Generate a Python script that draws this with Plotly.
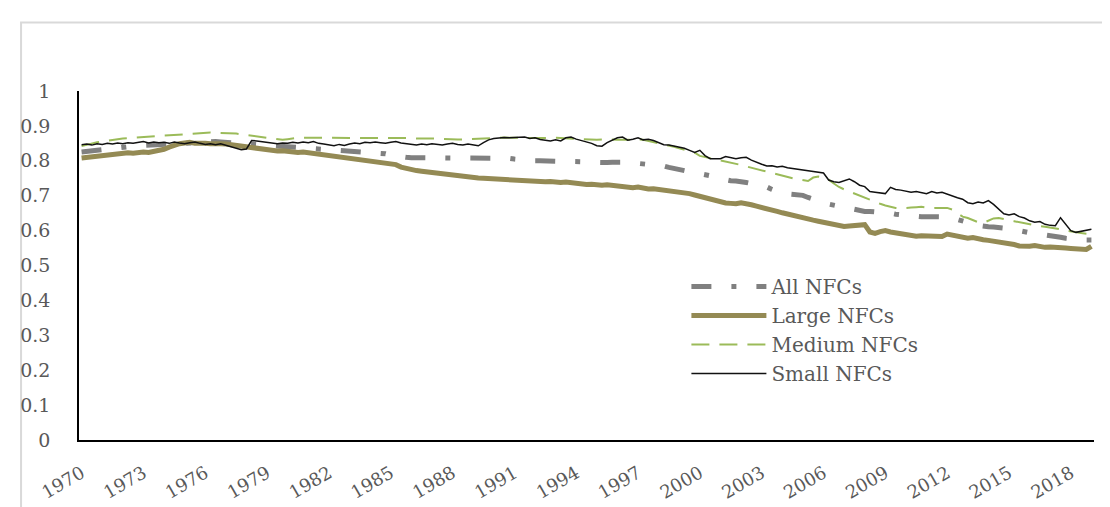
import plotly.graph_objects as go

start_year = 1970
tick_years = list(range(1970, 2019, 3))

# quarterly values, 1970Q1 .. 2019Q1 (one row per year)
all_nfcs = [
    0.825, 0.827, 0.829, 0.831,  0.833, 0.835, 0.837, 0.839,  0.840, 0.841, 0.842, 0.843,
    0.844, 0.845, 0.846, 0.847,  0.848, 0.849, 0.850, 0.851,  0.852, 0.853, 0.853, 0.854,
    0.854, 0.855, 0.855, 0.854,  0.853, 0.852, 0.850, 0.849,  0.848, 0.847, 0.846, 0.845,
    0.844, 0.843, 0.842, 0.841,  0.840, 0.839, 0.838, 0.837,  0.836, 0.835, 0.834, 0.833,
    0.832, 0.831, 0.830, 0.829,  0.828, 0.828, 0.827, 0.826,  0.826, 0.825, 0.823, 0.820,
    0.816, 0.813, 0.811, 0.810,  0.809, 0.809, 0.808, 0.808,  0.808, 0.807, 0.807, 0.806,
    0.806, 0.806, 0.806, 0.806,  0.806, 0.806, 0.807, 0.807,  0.808, 0.808, 0.808, 0.807,
    0.805, 0.803, 0.802, 0.801,  0.800, 0.800, 0.800, 0.800,  0.800, 0.800, 0.799, 0.799,
    0.799, 0.798, 0.797, 0.796,  0.795, 0.794, 0.795, 0.796,  0.797, 0.797, 0.796, 0.794,
    0.793, 0.792, 0.791, 0.789,  0.788, 0.785, 0.781, 0.778,  0.775, 0.773, 0.770, 0.768,
    0.766, 0.762, 0.757, 0.752,  0.748, 0.745, 0.743, 0.742,  0.741, 0.738, 0.735, 0.732,
    0.730, 0.725, 0.718, 0.712,  0.707, 0.705, 0.704, 0.703,  0.701, 0.695, 0.689, 0.684,
    0.680, 0.676, 0.672, 0.669,  0.667, 0.664, 0.660, 0.656,  0.655, 0.655, 0.654, 0.654,
    0.653, 0.650, 0.647, 0.645,  0.645, 0.643, 0.641, 0.640,  0.640, 0.640, 0.639, 0.639,
    0.639, 0.636, 0.631, 0.627,  0.624, 0.619, 0.615, 0.612,  0.611, 0.610, 0.609, 0.608,
    0.607, 0.604, 0.600, 0.596,  0.594, 0.592, 0.590, 0.589,  0.588, 0.585, 0.581, 0.578,
    0.576, 0.575, 0.574, 0.573,  0.573,
]

large_nfcs = [
    0.808, 0.810, 0.812, 0.814,  0.816, 0.818, 0.820, 0.821,  0.822, 0.823, 0.822, 0.824,
    0.825, 0.824, 0.827, 0.829,  0.833, 0.839, 0.845, 0.849,  0.851, 0.853, 0.850, 0.851,
    0.850, 0.849, 0.850, 0.849,  0.848, 0.846, 0.845, 0.842,  0.840, 0.837, 0.835, 0.833,
    0.831, 0.830, 0.828, 0.829,  0.827, 0.826, 0.824, 0.825,  0.823, 0.820, 0.818, 0.817,
    0.815, 0.813, 0.812, 0.810,  0.808, 0.806, 0.804, 0.802,  0.799, 0.797, 0.795, 0.793,
    0.791, 0.789, 0.782, 0.778,  0.775, 0.772, 0.770, 0.768,  0.766, 0.764, 0.762, 0.760,
    0.758, 0.757, 0.755, 0.754,  0.752, 0.751, 0.750, 0.749,  0.748, 0.747, 0.747, 0.746,
    0.745, 0.745, 0.744, 0.742,  0.743, 0.741, 0.740, 0.741,  0.739, 0.738, 0.739, 0.737,
    0.735, 0.734, 0.732, 0.733,  0.731, 0.730, 0.731, 0.729,  0.730, 0.728, 0.725, 0.723,
    0.725, 0.722, 0.719, 0.720,  0.718, 0.716, 0.717, 0.714,  0.712, 0.710, 0.706, 0.702,
    0.698, 0.694, 0.690, 0.686,  0.682, 0.679, 0.678, 0.677,  0.680, 0.678, 0.674, 0.670,
    0.667, 0.663, 0.659, 0.655,  0.651, 0.647, 0.644, 0.641,  0.637, 0.634, 0.630, 0.627,
    0.624, 0.621, 0.618, 0.615,  0.612, 0.613, 0.614, 0.616,  0.617, 0.596, 0.592, 0.597,
    0.600, 0.596, 0.593, 0.590,  0.588, 0.586, 0.584, 0.585,  0.584, 0.582, 0.581, 0.583,
    0.590, 0.587, 0.583, 0.580,  0.578, 0.580, 0.576, 0.574,  0.572, 0.570, 0.568, 0.566,
    0.562, 0.560, 0.556, 0.554,  0.555, 0.557, 0.554, 0.552,  0.553, 0.551, 0.552, 0.550,
    0.549, 0.547, 0.545, 0.546,  0.555,
]

medium_nfcs = [
    0.842, 0.846, 0.850, 0.853,  0.855, 0.858, 0.860, 0.862,  0.864, 0.865, 0.866, 0.867,
    0.868, 0.869, 0.870, 0.871,  0.873, 0.874, 0.875, 0.876,  0.877, 0.878, 0.879, 0.880,
    0.880, 0.881, 0.880, 0.880,  0.879, 0.878, 0.878, 0.876,  0.874, 0.872, 0.870, 0.869,
    0.868, 0.866, 0.862, 0.860,  0.862, 0.865, 0.866, 0.866,  0.866, 0.865, 0.866, 0.867,
    0.866, 0.865, 0.866, 0.866,  0.867, 0.866, 0.865, 0.866,  0.866, 0.867, 0.866, 0.865,
    0.866, 0.866, 0.867, 0.866,  0.865, 0.864, 0.865, 0.864,  0.864, 0.863, 0.863, 0.862,
    0.862, 0.861, 0.861, 0.862,  0.862, 0.863, 0.864, 0.865,  0.866, 0.867, 0.867, 0.866,
    0.867, 0.866, 0.865, 0.866,  0.865, 0.865, 0.864, 0.865,  0.866, 0.865, 0.864, 0.863,
    0.862, 0.863, 0.862, 0.861,  0.860, 0.861, 0.862, 0.861,  0.860, 0.859, 0.860, 0.861,
    0.862, 0.860, 0.857, 0.853,  0.849, 0.846, 0.843, 0.840,  0.836, 0.832, 0.828, 0.823,
    0.814, 0.811, 0.808, 0.805,  0.802, 0.799, 0.796, 0.792,  0.788, 0.784, 0.780, 0.776,
    0.772, 0.768, 0.764, 0.761,  0.758, 0.754, 0.750, 0.747,  0.744, 0.742, 0.752, 0.755,
    0.752, 0.746, 0.735, 0.725,  0.718, 0.712, 0.705, 0.700,  0.694, 0.688, 0.682, 0.677,
    0.672, 0.668, 0.665, 0.664,  0.664, 0.666, 0.667, 0.668,  0.666, 0.664, 0.665, 0.666,
    0.665, 0.660, 0.650, 0.640,  0.636, 0.630, 0.624, 0.622,  0.628, 0.635, 0.636, 0.632,
    0.630, 0.627, 0.624, 0.620,  0.618, 0.616, 0.613, 0.611,  0.609, 0.607, 0.604, 0.600,
    0.597, 0.595, 0.593, 0.591,  0.590,
]

small_nfcs = [
    0.846, 0.848, 0.845, 0.849,  0.847, 0.850, 0.848, 0.851,  0.849, 0.852, 0.850, 0.853,
    0.855, 0.851, 0.854, 0.852,  0.853, 0.850, 0.854, 0.851,  0.849, 0.852, 0.854, 0.850,
    0.847, 0.849, 0.846, 0.849,  0.845, 0.840, 0.835, 0.832,  0.834, 0.858, 0.857, 0.855,
    0.853, 0.851, 0.849, 0.851,  0.850, 0.853, 0.851, 0.854,  0.852, 0.855, 0.850, 0.848,
    0.846, 0.843, 0.847, 0.844,  0.848, 0.851, 0.849, 0.853,  0.852, 0.854, 0.852, 0.850,
    0.853, 0.855, 0.851, 0.849,  0.847, 0.845, 0.848, 0.846,  0.849, 0.847, 0.845, 0.848,
    0.850, 0.847, 0.845, 0.848,  0.845, 0.843, 0.852, 0.860,  0.864, 0.866, 0.867, 0.866,
    0.867, 0.869, 0.868, 0.864,  0.866, 0.861, 0.860, 0.857,  0.860, 0.857, 0.866, 0.868,
    0.862, 0.858, 0.852, 0.850,  0.843, 0.842, 0.852, 0.858,  0.866, 0.868, 0.859, 0.862,
    0.866, 0.860, 0.862, 0.858,  0.852, 0.846, 0.845, 0.842,  0.838, 0.836, 0.830, 0.824,
    0.830, 0.815, 0.806, 0.805,  0.806, 0.812, 0.808, 0.806,  0.809, 0.810, 0.802, 0.795,
    0.790, 0.785, 0.786, 0.782,  0.784, 0.780, 0.778, 0.774,  0.772, 0.770, 0.768, 0.766,
    0.765, 0.745, 0.740, 0.738,  0.742, 0.748, 0.740, 0.730,  0.726, 0.712, 0.710, 0.708,
    0.706, 0.724, 0.718, 0.716,  0.712, 0.710, 0.712, 0.708,  0.706, 0.712, 0.708, 0.710,
    0.704, 0.700, 0.694, 0.690,  0.680, 0.677, 0.682, 0.679,  0.686, 0.675, 0.662, 0.648,
    0.645, 0.648, 0.640, 0.636,  0.628, 0.624, 0.626, 0.618,  0.615, 0.614, 0.637, 0.620,
    0.600, 0.595, 0.598, 0.603,  0.604,
]

series_names = ["All NFCs", "Large NFCs", "Medium NFCs", "Small NFCs"]

n = len(all_nfcs)
x = list(range(n))
tick_vals = [(y - start_year) * 4 for y in tick_years]
tick_text = [str(y) for y in tick_years]

FONT = "DejaVu Serif"
TXT = "#595959"

fig = go.Figure()
fig.add_trace(go.Scatter(x=x, y=all_nfcs, name=series_names[0], mode="lines",
                         line=dict(color="#808080", width=5, dash="20px,20px,5px,20px")))
fig.add_trace(go.Scatter(x=x, y=large_nfcs, name=series_names[1], mode="lines",
                         line=dict(color="#948A54", width=5)))
fig.add_trace(go.Scatter(x=x, y=medium_nfcs, name=series_names[2], mode="lines",
                         line=dict(color="#9BBB59", width=2, dash="18px,10px")))
fig.add_trace(go.Scatter(x=x, y=small_nfcs, name=series_names[3], mode="lines",
                         line=dict(color="#111111", width=1.5)))

L, R, T, B = 70, 24, 83, 57
W, H = 1110, 507
pw, ph = W - L - R, H - T - B

fig.update_layout(
    width=W, height=H,
    margin=dict(l=L, r=R, t=T, b=B),
    paper_bgcolor="white", plot_bgcolor="white",
    font=dict(family=FONT, size=18, color=TXT),
    showlegend=True,
    legend=dict(x=(678 - L) / pw, y=(H - B - 268) / ph, xanchor="left", yanchor="top",
                bgcolor="rgba(0,0,0,0)", itemwidth=75, tracegroupgap=0,
                font=dict(family=FONT, size=20, color=TXT)),
    xaxis=dict(range=[-0.5, n - 0.5], tickmode="array", tickvals=tick_vals, ticktext=tick_text,
               tickangle=-30, showgrid=False, zeroline=False, showline=True,
               linecolor="black", linewidth=2, ticks="", ticklabelstandoff=14,
               tickfont=dict(family=FONT, size=18, color=TXT)),
    yaxis=dict(range=[0, 1], tickmode="array", tickvals=[i / 10 for i in range(11)],
               ticktext=["0", "0.1", "0.2", "0.3", "0.4", "0.5", "0.6", "0.7", "0.8", "0.9", "1"],
               showgrid=False, zeroline=False, showline=True, linecolor="black", linewidth=1.5,
               ticks="", ticklabelstandoff=23,
               tickfont=dict(family=FONT, size=19, color=TXT)),
    shapes=[dict(type="rect", xref="paper", yref="paper",
                 x0=(12 - L) / pw, x1=(1105 - L) / pw,
                 y0=(H - B - 530) / ph, y1=(H - B - 11) / ph,
                 line=dict(color="#D9D9D9", width=2), fillcolor="rgba(0,0,0,0)", layer="below")],
)

fig.write_html("out.html")
